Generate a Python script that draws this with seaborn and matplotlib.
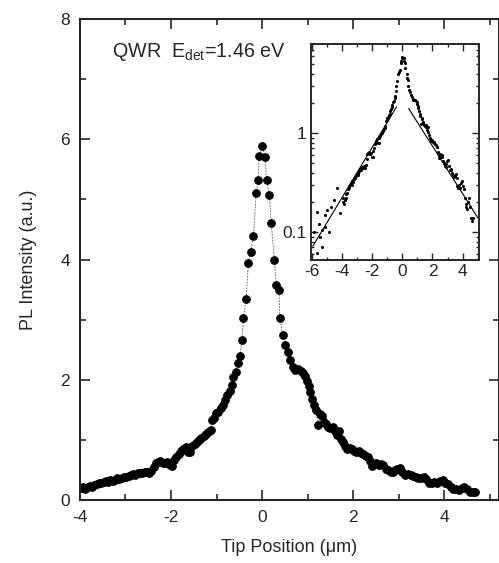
import numpy as np
import pandas as pd
import seaborn as sns
import matplotlib
matplotlib.use("Agg")
import matplotlib.pyplot as plt
from matplotlib.ticker import MultipleLocator, LogLocator, NullFormatter

# PL line scan through the wire
tip_pos = [-3.98, -3.93, -3.88, -3.83, -3.78, -3.73, -3.68, -3.63, -3.58, -3.53,
           -3.48, -3.43, -3.38, -3.33, -3.28, -3.23, -3.18, -3.13, -3.08, -3.03,
           -2.98, -2.93, -2.88, -2.83, -2.78, -2.73, -2.68, -2.63, -2.58, -2.53,
           -2.48, -2.43, -2.38, -2.33, -2.28, -2.23, -2.18, -2.13, -2.08, -2.03,
           -1.98, -1.93, -1.88, -1.83, -1.78, -1.73, -1.68, -1.63, -1.58, -1.53,
           -1.48, -1.43, -1.38, -1.33, -1.28, -1.23, -1.18, -1.13, -1.10, -1.06,
           -1.01, -0.96, -0.91, -0.86, -0.81, -0.76, -0.71, -0.67, -0.63, -0.58,
           -0.53, -0.48, -0.445, -0.41, -0.35, -0.30, -0.25, -0.19, -0.13, -0.09,
           -0.06, 0.00, 0.07, 0.10, 0.16, 0.20, 0.27, 0.31, 0.37, 0.39,
           0.45, 0.51, 0.56, 0.62, 0.67, 0.73, 0.79, 0.85, 0.90, 0.94,
           0.98, 1.02, 1.06, 1.10, 1.14, 1.18, 1.23, 1.27, 1.31, 1.35,
           1.40, 1.45, 1.50, 1.55, 1.60, 1.64, 1.68, 1.73, 1.78, 1.83,
           1.87, 1.92, 1.97, 2.02, 2.07, 2.12, 2.17, 2.22, 2.27, 2.32,
           2.37, 2.41, 2.46, 2.51, 2.56, 2.61, 2.66, 2.71, 2.77, 2.82,
           2.87, 2.92, 2.97, 3.03, 3.08, 3.14, 3.20, 3.26, 3.32, 3.38,
           3.43, 3.49, 3.55, 3.60, 3.66, 3.72, 3.78, 3.84, 3.90, 3.96,
           4.02, 4.08, 4.14, 4.20, 4.26, 4.32, 4.38, 4.44, 4.50, 4.56,
           4.62, 4.67]
pl_int = [0.20, 0.22, 0.19, 0.21, 0.24, 0.22, 0.25, 0.27, 0.29, 0.28,
          0.30, 0.31, 0.30, 0.33, 0.32, 0.34, 0.36, 0.35, 0.37, 0.39,
          0.38, 0.40, 0.41, 0.43, 0.42, 0.44, 0.45, 0.44, 0.46, 0.47,
          0.44, 0.48, 0.55, 0.62, 0.63, 0.64, 0.62, 0.61, 0.63, 0.58,
          0.57, 0.66, 0.71, 0.77, 0.81, 0.84, 0.88, 0.80, 0.79, 0.89,
          0.93, 0.97, 1.00, 1.03, 1.06, 1.10, 1.13, 1.17, 1.33, 1.37,
          1.44, 1.47, 1.53, 1.58, 1.66, 1.75, 1.82, 1.92, 2.05, 2.13,
          2.28, 2.40, 2.66, 3.02, 3.35, 3.95, 4.12, 4.39, 5.10, 5.32,
          5.73, 5.89, 5.70, 5.32, 5.07, 4.61, 4.00, 3.58, 3.49, 3.03,
          2.75, 2.58, 2.46, 2.33, 2.22, 2.16, 2.18, 2.15, 2.12, 2.06,
          1.98, 1.90, 1.79, 1.68, 1.58, 1.49, 1.25, 1.43, 1.39, 1.30,
          1.27, 1.22, 1.19, 1.21, 1.15, 1.08, 1.15, 1.02, 0.96, 0.90,
          0.84, 0.86, 0.85, 0.82, 0.80, 0.82, 0.78, 0.76, 0.73, 0.72,
          0.65, 0.56, 0.60, 0.61, 0.58, 0.60, 0.58, 0.52, 0.50, 0.47,
          0.46, 0.49, 0.52, 0.53, 0.47, 0.42, 0.43, 0.42, 0.40, 0.38,
          0.36, 0.37, 0.39, 0.35, 0.29, 0.28, 0.30, 0.28, 0.31, 0.33,
          0.29, 0.27, 0.22, 0.19, 0.18, 0.17, 0.20, 0.22, 0.18, 0.14,
          0.13, 0.14]

# extra far-left points only shown in the log inset
tail_pos = [-5.92, -5.69, -5.69, -5.58, -5.47, -5.36, -5.36, -5.13, -5.13, -5.02,
            -4.90, -4.79, -4.56, -4.34, -4.16]
tail_int = [0.10, 0.16, 0.061, 0.12, 0.09, 0.105, 0.071, 0.113, 0.148, 0.166,
            0.10, 0.18, 0.21, 0.276, 0.155]

# exponential fits (straight lines on log scale)
fit_left_x = [-5.97, -0.39]
fit_left_y = [0.072, 1.85]
fit_right_x = [0.41, 5.04]
fit_right_y = [1.78, 0.138]

sns.set_style("ticks")
plt.rcParams['font.family'] = ['Liberation Sans', 'DejaVu Sans']
plt.rcParams['mathtext.default'] = 'regular'
plt.rcParams['axes.unicode_minus'] = False
plt.rcParams['xtick.direction'] = 'in'
plt.rcParams['ytick.direction'] = 'in'

main_df = pd.DataFrame({'pos': tip_pos, 'pl': pl_int})
inset_df = pd.DataFrame({'pos': tail_pos + tip_pos, 'pl': tail_int + pl_int})

fig = plt.figure(figsize=(4.99, 5.63), dpi=100)
ax = fig.add_axes([0.160, 0.112, 0.840, 0.854])

sns.lineplot(data=main_df, x='pos', y='pl', ax=ax, color='0.35', linewidth=0.6,
             linestyle=(0, (2, 1.5)), marker='o', markersize=5.5,
             markerfacecolor='black', markeredgecolor='black', sort=False)
ax.set_xlim(-4, 5.2)
ax.set_ylim(0, 8)
ax.xaxis.set_major_locator(MultipleLocator(2))
ax.xaxis.set_minor_locator(MultipleLocator(1))
ax.yaxis.set_major_locator(MultipleLocator(2))
ax.yaxis.set_minor_locator(MultipleLocator(1))
ax.tick_params(which='both', top=True, right=True, labelsize=12.5, width=1.2)
ax.tick_params(which='major', length=7)
ax.tick_params(which='minor', length=4)
ax.tick_params(axis='y', pad=7)
ax.tick_params(axis='x', pad=7)
for s in ax.spines.values():
    s.set_linewidth(1.5)
ax.set_xlabel('Tip Position (μm)', fontsize=13, labelpad=10)
ax.set_ylabel('PL Intensity (a.u.)', fontsize=13, labelpad=17)
ax.text(-3.3, 7.45, 'QWR  E$_{det}$=1.46 eV', fontsize=14.2, va='center')

ins = fig.add_axes([0.623, 0.538, 0.337, 0.384])
sns.scatterplot(data=inset_df, x='pos', y='pl', ax=ins, color='black', s=5,
                linewidth=0)
sns.lineplot(x=fit_left_x, y=fit_left_y, ax=ins, color='black', linewidth=0.8)
sns.lineplot(x=fit_right_x, y=fit_right_y, ax=ins, color='black', linewidth=0.8)
ins.set_yscale('log')
ins.set_xlim(-6.1, 5.1)
ins.set_ylim(0.052, 8)
ins.set_yticks([0.1, 1])
ins.set_yticklabels(['0.1', '1'])
ins.yaxis.set_minor_locator(LogLocator(base=10, subs=np.arange(2, 10)))
ins.yaxis.set_minor_formatter(NullFormatter())
ins.xaxis.set_major_locator(MultipleLocator(2))
ins.xaxis.set_minor_locator(MultipleLocator(1))
ins.tick_params(which='both', top=True, right=True, labelsize=12.5, width=1.0, pad=3)
ins.tick_params(which='major', length=5)
ins.tick_params(which='minor', length=2.5)
ins.set_xlabel('')
ins.set_ylabel('')
for s in ins.spines.values():
    s.set_linewidth(1.4)

plt.savefig('out.png', dpi=100)
